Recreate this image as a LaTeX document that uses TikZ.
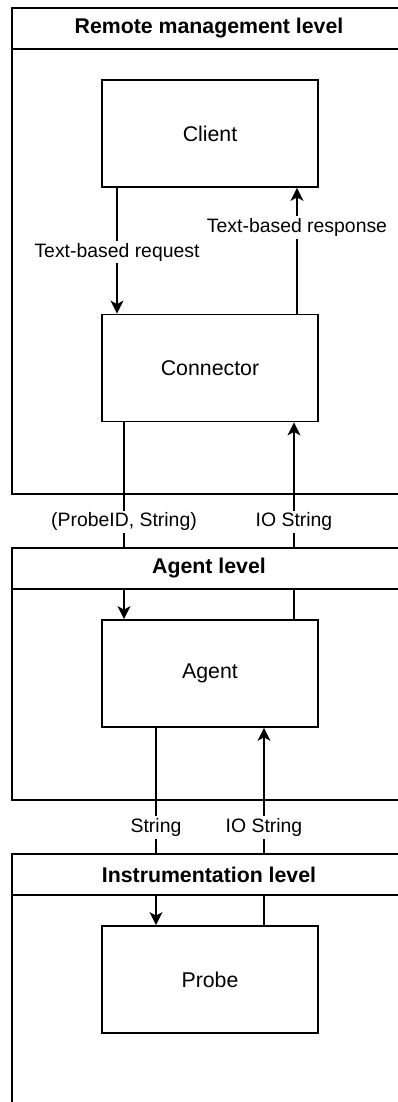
\documentclass[tikz,border=0pt]{standalone}
\usepackage{fontspec}
\setmainfont{Liberation Sans}
\usetikzlibrary{arrows.meta}
\tikzset{
  boxnode/.style={draw, line width=1.8pt, fill=white, minimum width=216pt,
    minimum height=107pt, inner sep=0pt, font=\fontsize{21.3}{25}\selectfont},
  lanehead/.style={draw, line width=1.8pt, fill=white, minimum width=394pt,
    minimum height=41pt, inner sep=0pt, font=\fontsize{21.3}{25}\selectfont\bfseries},
  lanebody/.style={draw, line width=1.8pt},
  flow/.style={line width=1.8pt, -{Stealth[length=13pt,width=13pt,inset=3.5pt]}},
  edgelabel/.style={fill=white, inner sep=2pt, font=\fontsize{19.4}{23}\selectfont}
}
\begin{document}
\begin{tikzpicture}[x=1pt, y=-1pt]
\useasboundingbox (0,0) rectangle (398,1102);
\clip (0,0) rectangle (398,1102);

% components
\node[boxnode] (client)    at (210,133.5) {Client};
\node[boxnode] (connector) at (210,368)   {Connector};
\node[boxnode] (agent)     at (210,673.5) {Agent};
\node[boxnode] (probe)     at (210,979.5) {Probe};

% lane header anchors (nodes placed later, on top of the connectors)
\coordinate (h1) at (209,28.5);
\coordinate (h2) at (209,568.5);
\coordinate (h3) at (209,874.5);

% connectors
\draw[flow] ([xshift=-93pt]client.south) -- ([xshift=-93pt]connector.north)
  node[edgelabel, pos=0.51] {Text-based request};
\draw[flow] ([xshift=87pt]connector.north) -- ([xshift=87pt]client.south)
  node[edgelabel, pos=0.685] {Text-based response};
\draw[flow] ([xshift=-86pt]connector.south) -- ([xshift=-86pt]agent.north)
  node[edgelabel, pos=0.505] {(ProbeID, String)};
\draw[flow] ([xshift=84pt]agent.north) -- ([xshift=84pt]connector.south)
  node[edgelabel, pos=0.495] {IO String};
\draw[flow] ([xshift=-54pt]agent.south) -- ([xshift=-54pt]probe.north)
  node[edgelabel, pos=0.505] {String};
\draw[flow] ([xshift=54pt]probe.north) -- ([xshift=54pt]agent.south)
  node[edgelabel, pos=0.495] {IO String};

% lanes
\draw[lanebody] (12,49) rectangle (406,494);
\node[lanehead] (lane1) at (h1) {Remote management level};
\draw[lanebody] (12,589) rectangle (406,800);
\node[lanehead] (lane2) at (h2) {Agent level};
\draw[lanebody] (12,895) rectangle (406,1130);
\node[lanehead] (lane3) at (h3) {Instrumentation level};

% redraw component boxes above lane bodies
\node[boxnode] at (client)    {Client};
\node[boxnode] at (connector) {Connector};
\node[boxnode] at (agent)     {Agent};
\node[boxnode] at (probe)     {Probe};
\end{tikzpicture}
\end{document}
